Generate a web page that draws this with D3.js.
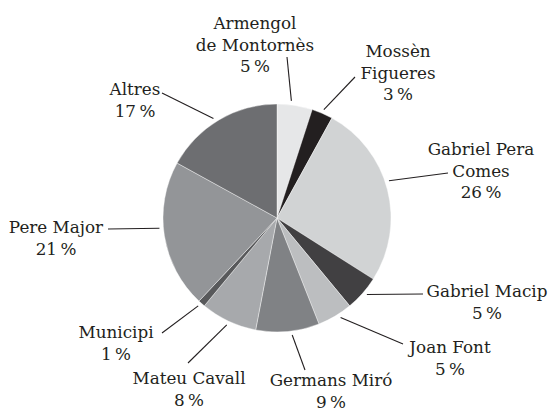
<!DOCTYPE html>
<html>
<head>
<meta charset="utf-8">
<script src="https://cdn.jsdelivr.net/npm/d3@7"></script>
<style>
  html, body { margin: 0; padding: 0; background: #fff; }
</style>
</head>
<body>
<div id="chart"></div>
<script>
// categories, clockwise from 12 o'clock
var names = ["Armengol\nde Montornès", "Mossèn\nFigueres", "Gabriel Pera\nComes", "Gabriel Macip",
             "Joan Font", "Germans Miró", "Mateu Cavall", "Municipi", "Pere Major", "Altres"];
var shares = [5, 3, 26, 5, 5, 9, 8, 1, 21, 17];
var greys = ["#e6e7e8", "#231f20", "#d1d3d4", "#414042", "#bcbec0",
             "#808285", "#a7a9ac", "#58595b", "#939598", "#6d6e71"];

// label layout: text centre x, first baseline y, leader end, small angle nudge (deg)
var labelLayout = [
  {x: 255, y: 29,  lx: 287, ly: 57,  nudge: -2},
  {x: 398, y: 57,  lx: 355, ly: 77,  nudge: 0},
  {x: 481, y: 155, lx: 448, ly: 173, nudge: -4},
  {x: 487, y: 297, lx: 423, ly: 294, nudge: -1},
  {x: 450, y: 353, lx: 403, ly: 344, nudge: -2},
  {x: 331, y: 386, lx: 305, ly: 370, nudge: -2},
  {x: 189, y: 384, lx: 188, ly: 363, nudge: 0},
  {x: 116, y: 338, lx: 162, ly: 333, nudge: 0.5},
  {x: 56,  y: 233, lx: 108, ly: 229, nudge: 4},
  {x: 135, y: 95,  lx: 162, ly: 93,  nudge: -2}
];

var width = 551, height = 412;
var cx = 277, cy = 218, radius = 114;
var fontStack = "'DejaVu Serif', 'Noto Serif', 'Liberation Serif', serif";

var svg = d3.select("#chart")
            .append("svg")
            .attr("width", width)
            .attr("height", height);

var pie = d3.pie().sort(null).value(function(d) { return d; });
var arcs = pie(shares);

var arc = d3.arc().innerRadius(0).outerRadius(radius);

var g = svg.append("g").attr("transform", "translate(" + cx + "," + cy + ")");

g.selectAll("path")
 .data(arcs)
 .enter()
 .append("path")
 .attr("d", arc)
 .attr("fill", function(d, i) { return greys[i]; })
 .attr("stroke", "#fff")
 .attr("stroke-width", 0.4);

// leader lines start just outside the pie at the slice's mid angle
var leadR = 118;
function leadAngle(d, i) {
  return (d.startAngle + d.endAngle) / 2 + labelLayout[i].nudge * Math.PI / 180;
}
svg.selectAll("line.leader")
   .data(arcs)
   .enter()
   .append("line")
   .attr("class", "leader")
   .attr("x1", function(d, i) { return cx + leadR * Math.sin(leadAngle(d, i)); })
   .attr("y1", function(d, i) { return cy - leadR * Math.cos(leadAngle(d, i)); })
   .attr("x2", function(d, i) { return labelLayout[i].lx; })
   .attr("y2", function(d, i) { return labelLayout[i].ly; })
   .attr("stroke", "#231f20")
   .attr("stroke-width", 1.1);

var labels = svg.selectAll("text.label")
   .data(arcs)
   .enter()
   .append("text")
   .attr("class", "label")
   .attr("text-anchor", "middle")
   .attr("font-family", fontStack)
   .attr("font-size", "16.8px")
   .attr("fill", "#231f20")
   .attr("x", function(d, i) { return labelLayout[i].x; })
   .attr("y", function(d, i) { return labelLayout[i].y; });

labels.each(function(d, i) {
  var lines = names[i].split("\n").concat([shares[i] + "\u2009%"]);
  var t = d3.select(this);
  lines.forEach(function(line, k) {
    t.append("tspan")
     .attr("x", labelLayout[i].x)
     .attr("y", labelLayout[i].y + k * 21.5)
     .text(line);
  });
});
</script>
</body>
</html>
